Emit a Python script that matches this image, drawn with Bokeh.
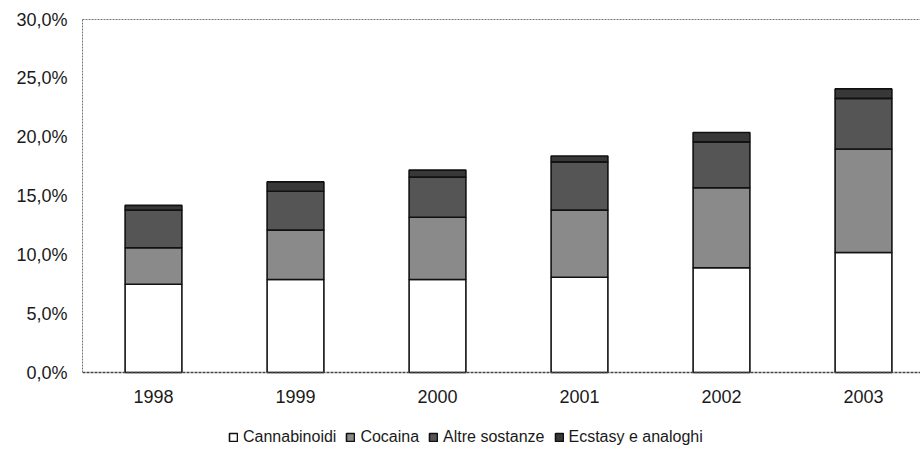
from bokeh.plotting import figure
from bokeh.models import ColumnDataSource, FixedTicker, Legend, LegendItem, LinearAxis, Range1d
from bokeh.embed import file_html
from bokeh.resources import INLINE

years = ["1998", "1999", "2000", "2001", "2002", "2003"]
cannabinoidi = [7.5, 7.9, 7.9, 8.1, 8.9, 10.2]
cocaina = [3.1, 4.2, 5.3, 5.7, 6.8, 8.8]
altre = [3.2, 3.3, 3.4, 4.1, 3.9, 4.3]
ecstasy = [0.4, 0.8, 0.6, 0.5, 0.8, 0.8]
series_names = ["Cannabinoidi", "Cocaina", "Altre sostanze", "Ecstasy e analoghi"]
y_ticks = [0, 5, 10, 15, 20, 25, 30]
y_labels = ["0,0%", "5,0%", "10,0%", "15,0%", "20,0%", "25,0%", "30,0%"]

xpos = list(range(len(years)))
source = ColumnDataSource(dict(x=xpos, c1=cannabinoidi, c2=cocaina, c3=altre, c4=ecstasy))

FONT = "Liberation Sans"

# frame spans y 19..450; value 0 sits 78px above the bottom (353px for 30 units)
p = figure(width=920, height=450, output_backend="svg", toolbar_location=None,
           x_range=Range1d(-0.5, -0.5 + 838 / 142), y_range=Range1d(-78 * 30 / 353, 30),
           min_border_left=82, min_border_right=0, min_border_top=19, min_border_bottom=0)
p.outline_line_alpha = 0
p.xgrid.visible = False
p.ygrid.visible = False
p.background_fill_color = "white"

colors = ["white", "#8a8a8a", "#555555", "#383838"]
rs = p.vbar_stack(["c1", "c2", "c3", "c4"], x="x", width=0.4, source=source,
                  fill_color=colors, line_color="#111111", line_width=1.6)

p.yaxis.ticker = FixedTicker(ticks=y_ticks)
p.yaxis.major_label_overrides = {t: l for t, l in zip(y_ticks, y_labels)}
p.yaxis.bounds = (0, 30)
p.xaxis.ticker = FixedTicker(ticks=xpos)
p.xaxis.major_label_overrides = {i: y for i, y in zip(xpos, years)}
p.xaxis.fixed_location = 0
for ax in (p.xaxis[0], p.yaxis[0]):
    ax.major_tick_line_color = None
    ax.minor_tick_line_color = None
    ax.major_label_text_font = FONT
    ax.major_label_text_font_size = "18px"
    ax.major_label_text_color = "#1a1a1a"
p.yaxis.major_label_standoff = 9
p.xaxis.major_label_standoff = 11
p.yaxis.axis_line_color = "#777777"
p.yaxis.axis_line_dash = "2 1"
p.xaxis.axis_line_color = "#444444"
p.xaxis.axis_line_width = 1.5
p.xaxis.axis_line_dash = "3 1"

top = LinearAxis(major_label_text_font_size="0px", major_tick_line_color=None,
                 minor_tick_line_color=None, axis_line_color="#777777", axis_line_dash="2 1")
top.ticker = FixedTicker(ticks=[])
p.add_layout(top, "above")

items = [LegendItem(label=n, renderers=[r]) for n, r in zip(series_names, rs)]
legend = Legend(items=items, orientation="horizontal", location=(146, 4),
                label_text_font=FONT, label_text_font_size="16px", label_text_color="#1a1a1a",
                glyph_width=10, glyph_height=10, label_standoff=5, spacing=9,
                padding=0, margin=0, border_line_alpha=0, background_fill_alpha=0)
p.add_layout(legend, "center")

open("out.html", "w").write(file_html(p, INLINE))
